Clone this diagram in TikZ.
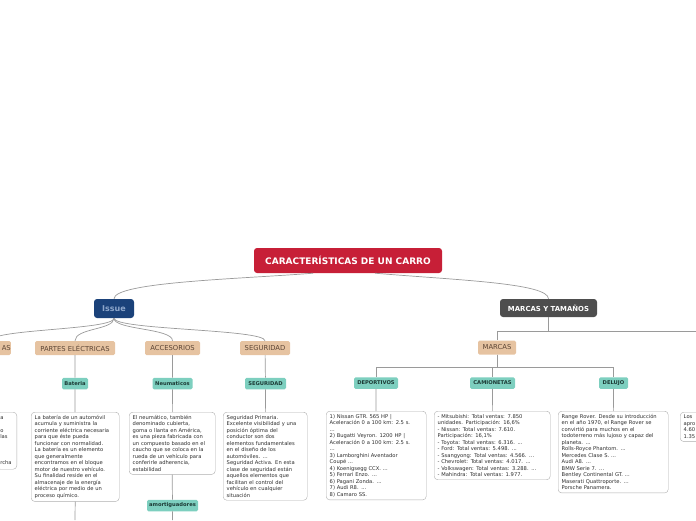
\documentclass[tikz,border=0pt]{standalone}
\usepackage{fontspec}
\setmainfont{DejaVu Sans}
\usepackage{xcolor}
\definecolor{rojo}{HTML}{C71F37}
\definecolor{azul}{HTML}{1B427A}
\definecolor{azulclaro}{HTML}{8EA7CB}
\definecolor{gris}{HTML}{4E4E4E}
\definecolor{arena}{HTML}{E6C3A1}
\definecolor{cafe}{HTML}{5C4535}
\definecolor{menta}{HTML}{7DCFBF}
\definecolor{verde}{HTML}{1C3A35}
\definecolor{linea}{HTML}{9A9A9A}
\definecolor{texto}{HTML}{2E2E2E}

\begin{document}
\begin{tikzpicture}[x=1pt, y=-1pt,
  conector/.style={draw=linea, line width=0.7pt},
  principal/.style={rounded corners=3pt, inner sep=0pt, font=\bfseries\fontsize{8}{9}\selectfont},
  rama/.style={fill=arena, text=cafe, rounded corners=1.5pt, minimum height=14pt, inner sep=0pt, font=\fontsize{6.8}{7.5}\selectfont},
  sub/.style={fill=menta, text=verde, rounded corners=1.5pt, minimum height=11.5pt, inner sep=0pt, font=\bfseries\fontsize{5.2}{6}\selectfont},
  hoja/.style={draw=linea!80, fill=white, text=texto, rounded corners=3.5pt, anchor=north west, align=left, inner xsep=3.5pt, inner ysep=3pt, font=\fontsize{5.2}{6.5}\selectfont}]
  \useasboundingbox (0,0) rectangle (696,520);

  % centro y ramas principales
  \node[principal, fill=rojo, text=white, minimum width=188pt, minimum height=25pt, font=\bfseries\fontsize{9}{10}\selectfont] (raiz) at (348,260.5) {CARACTERÍSTICAS DE UN CARRO};
  \node[principal, fill=azul, text=azulclaro, minimum width=40pt, minimum height=19pt] (issue) at (114,308.5) {Issue};
  \node[principal, fill=gris, text=white, minimum width=97pt, minimum height=18pt, font=\bfseries\fontsize{6.9}{8}\selectfont] (marcasTam) at (548.5,308) {MARCAS Y TAMAÑOS};

  % temas bajo Issue
  \node[rama, anchor=east, text width=40pt, align=right] (mec) at (11,348) {AS};
  \node[rama, minimum width=80pt] (partes) at (75,348) {PARTES ELÉCTRICAS};
  \node[rama, minimum width=55pt] (acces) at (172.5,348) {ACCESORIOS};
  \node[rama, minimum width=50pt] (segur) at (265,348) {SEGURIDAD};
  \node[rama, minimum width=38pt] (marcas) at (497,347.5) {MARCAS};

  \node[sub, minimum width=26pt] (bateria) at (75,383.5) {Bateria};
  \node[sub, minimum width=40pt] (neuma) at (172.5,383.5) {Neumaticos};
  \node[sub, minimum width=41pt] (seguSub) at (265.5,383.5) {SEGURIDAD};
  \node[sub, minimum width=51pt] (amort) at (172.5,505.5) {amortiguadores};
  \node[sub, minimum width=44pt] (deport) at (376,383) {DEPORTIVOS};
  \node[sub, minimum width=45pt] (camion) at (492.5,383) {CAMIONETAS};
  \node[sub, minimum width=29pt] (delujo) at (613.5,383) {DELUJO};

  % textos
  \node[hoja, anchor=north east, text width=13pt, minimum height=57pt] (izq) at (17,412)
    {a\\ \mbox{}\\ o\\ las\\ \mbox{}\\ \mbox{}\\ \mbox{}\\ rcha};
  \node[hoja, text width=81pt] (batTxt) at (31,412)
    {La batería de un automóvil\\ acumula y suministra la\\ corriente eléctrica necesaria\\ para que éste pueda\\ funcionar con normalidad.\\ La batería es un elemento\\ que generalmente\\ encontramos en el bloque\\ motor de nuestro vehículo.\\ Su finalidad reside en el\\ almacenaje de la energía\\ eléctrica por medio de un\\ proceso químico.};
  \node[hoja, text width=79pt] (neuTxt) at (129,412)
    {El neumático, también\\ denominado cubierta,\\ goma o llanta en América,\\ es una pieza fabricada con\\ un compuesto basado en el\\ caucho que se coloca en la\\ rueda de un vehículo para\\ conferirle adherencia,\\ estabilidad};
  \node[hoja, text width=77pt] (segTxt) at (223,412)
    {Seguridad Primaria.\\ Excelente visibilidad y una\\ posición óptima del\\ conductor son dos\\ elementos fundamentales\\ en el diseño de los\\ automóviles. ...\\ Seguridad Activa. En esta\\ clase de seguridad están\\ aquellos elementos que\\ facilitan el control del\\ vehículo en cualquier\\ situación};
  \node[hoja, text width=93pt] (depTxt) at (326,411)
    {1) Nissan GTR. 565 HP |\\ Aceleración 0 a 100 km: 2.5 s.\\ ...\\ 2) Bugatti Veyron. 1200 HP |\\ Aceleración 0 a 100 km: 2.5 s.\\ ...\\ 3) Lamborghini Aventador\\ Coupé ...\\ 4) Koenigsegg CCX. ...\\ 5) Ferrari Enzo. ...\\ 6) Pagani Zonda. ...\\ 7) Audi R8. ...\\ 8) Camaro SS.};
  \node[hoja, text width=109pt] (camTxt) at (434,411)
    {- Mitsubishi: Total ventas: 7.850\\ unidades. Participación: 16,6\%\\ - Nissan: Total ventas: 7.610.\\ Participación: 16,1\%\\ - Toyota: Total ventas: 6.316. ...\\ - Ford: Total ventas: 5.498. ...\\ - Ssangyong: Total ventas: 4.566. ...\\ - Chevrolet: Total ventas: 4.017. ...\\ - Volkswagen: Total ventas: 3.288. ...\\ - Mahindra: Total ventas: 1.977.};
  \node[hoja, text width=103pt] (lujTxt) at (558,411)
    {Range Rover. Desde su introducción\\ en el año 1970, el Range Rover se\\ convirtió para muchos en el\\ todoterreno más lujoso y capaz del\\ planeta. ...\\ Rolls-Royce Phantom. ...\\ Mercedes Clase S. ...\\ Audi A8. ...\\ BMW Serie 7. ...\\ Bentley Continental GT. ...\\ Maserati Quattroporte. ...\\ Porsche Panamera.};
  \node[hoja, text width=60pt] (der) at (680,412) {Los\\ apro\\ 4.60\\ 1.35};

  \coordinate (batFin) at (75,520);
  \coordinate (amoFin) at (172.5,520);
  \coordinate (tamanos) at (700,331);

  % conectores
  \draw[conector] ([xshift=-35pt]raiz.south) .. controls (240,279) and (114,282) .. (issue.north);
  \draw[conector] ([xshift=27pt]raiz.south) .. controls (455,280) and (548.5,283) .. (marcasTam.north);
  \draw[conector] (issue.south) .. controls (114,330) and (-10,329) .. (mec.north);
  \draw[conector] (issue.south) .. controls (114,330) and (75,328) .. (partes.north);
  \draw[conector] (issue.south) .. controls (114,330) and (172.5,328) .. (acces.north);
  \draw[conector] (issue.south) .. controls (114,330) and (265,329) .. (segur.north);
  \draw[conector] (partes) -- (bateria) -- (batTxt) (batTxt.south) -- (batFin);
  \draw[conector] (acces) -- (neuma) -- (neuTxt) (neuTxt.south) -- (amort) -- (amoFin);
  \draw[conector] (segur) -- (seguSub) -- (segTxt);
  \draw[conector] (marcasTam.south) |- (tamanos);
  \draw[conector] (marcasTam.south) -- ++(0,14) -| (marcas.north);
  \draw[conector] (marcas.south) -- ++(0,13) -| (deport.north);
  \draw[conector] (marcas.south) -- ++(0,13) -| (camion.north);
  \draw[conector] (marcas.south) -- ++(0,13) -| (delujo.north);
  \draw[conector] (deport) -- (depTxt);
  \draw[conector] (camion) -- (camTxt);
  \draw[conector] (delujo) -- (lujTxt);
\end{tikzpicture}
\end{document}
